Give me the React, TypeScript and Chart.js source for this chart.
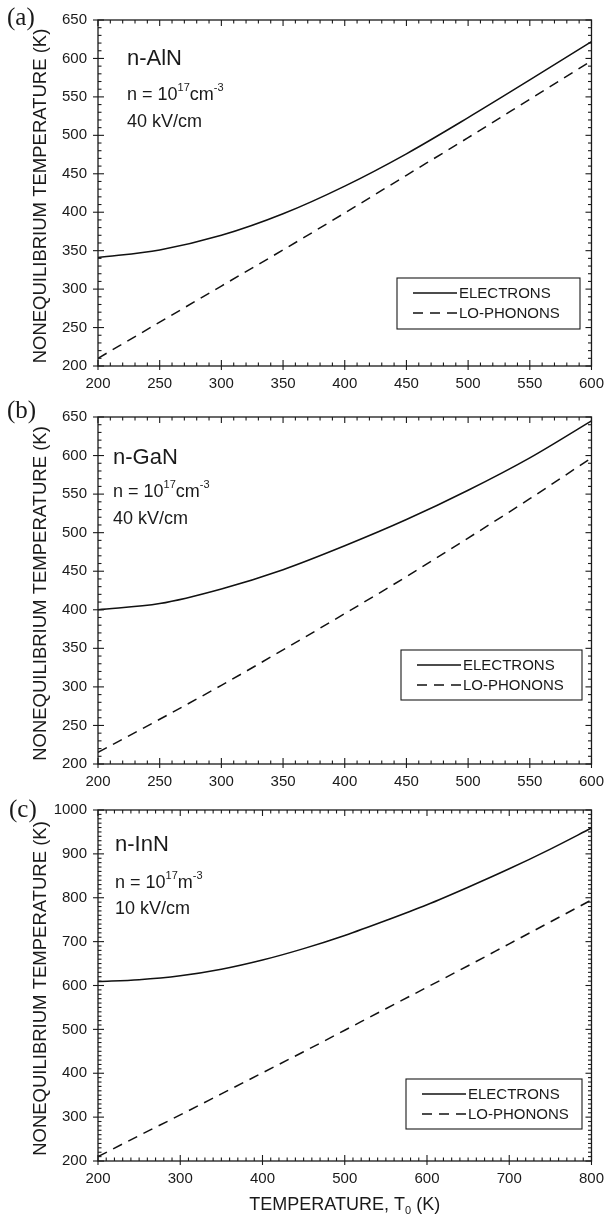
import React, { useEffect, useRef } from "react";
import { Chart, registerables } from "chart.js";

Chart.register(...registerables);

const FONT = '"Liberation Sans", Arial, Helvetica, sans-serif';
const SERIF = '"Liberation Serif", "Times New Roman", serif';
const INK = "#1a1a1a";

// ---- data ----
// (a) n-AlN
const tempA = [200, 250, 300, 350, 400, 450, 500, 550, 600];
const electronsA = [341, 351, 370, 398, 434, 476, 523, 572, 622];
const phononsA = [210, 257, 304, 351, 399, 448, 497, 547, 597];
// (b) n-GaN
const tempB = [200, 250, 300, 350, 400, 450, 500, 550, 600];
const electronsB = [400, 408, 427, 452, 483, 517, 555, 597, 645];
const phononsB = [215, 258, 302, 348, 395, 443, 493, 544, 597];
// (c) n-InN
const tempC = [200, 250, 300, 350, 400, 450, 500, 550, 600, 650, 700, 750, 800];
const electronsC = [609, 613, 622, 637, 658, 684, 714, 748, 784, 824, 866, 911, 959];
const phononsC = [210, 258, 305, 353, 401, 449, 498, 547, 596, 645, 695, 745, 795];

const legendLabels = ["ELECTRONS", "LO-PHONONS"];
const panelLetters = ["(a)", "(b)", "(c)"];
const materials = ["n-AlN", "n-GaN", "n-InN"];
const densityUnits = ["cm", "cm", "m"];
const fields = ["40 kV/cm", "40 kV/cm", "10 kV/cm"];
const yTitle = "NONEQUILIBRIUM TEMPERATURE (K)";
const xTitleMain = "TEMPERATURE, T";
const xTitleSub = "0";
const xTitleTail = " (K)";

// ---- layout ----
const panels = [
  {
    top: 0, height: 400, bottomPad: 34,
    temp: tempA, el: electronsA, ph: phononsA,
    xMin: 200, xMax: 600, xMajor: 50, xMinor: 10,
    yMin: 200, yMax: 650, yMajor: 50, yMinor: 10,
    letter: { x: 7, y: 25 }, text: { x: 127, y: [65, 100, 127] },
    legend: { x: 397, y: 278, w: 183, h: 51 }, xTitle: false,
  },
  {
    top: 397, height: 400, bottomPad: 33,
    temp: tempB, el: electronsB, ph: phononsB,
    xMin: 200, xMax: 600, xMajor: 50, xMinor: 10,
    yMin: 200, yMax: 650, yMajor: 50, yMinor: 10,
    letter: { x: 7, y: 21 }, text: { x: 113, y: [67, 100, 127] },
    legend: { x: 401, y: 253, w: 181, h: 50 }, xTitle: false,
  },
  {
    top: 790, height: 429, bottomPad: 58,
    temp: tempC, el: electronsC, ph: phononsC,
    xMin: 200, xMax: 800, xMajor: 100, xMinor: 10,
    yMin: 200, yMax: 1000, yMajor: 100, yMinor: 10,
    letter: { x: 9, y: 27 }, text: { x: 115, y: [61, 98, 124] },
    legend: { x: 406, y: 289, w: 176, h: 50 }, xTitle: true,
  },
];

function line(ctx: CanvasRenderingContext2D, x1: number, y1: number, x2: number, y2: number) {
  ctx.beginPath();
  ctx.moveTo(x1, y1);
  ctx.lineTo(x2, y2);
  ctx.stroke();
}

function drawRuns(ctx: CanvasRenderingContext2D, parts: [string, number, number][], x: number, y: number) {
  let cx = x;
  for (const [t, size, dy] of parts) {
    ctx.font = `${size}px ${FONT}`;
    ctx.fillText(t, cx, y + dy);
    cx += ctx.measureText(t).width;
  }
  return cx;
}

const decorPlugin = {
  id: "decor",
  afterDraw(chart: any) {
    const o = chart.options.plugins.decor;
    if (!o) return;
    const p = o.panel;
    const idx = o.index;
    const ctx: CanvasRenderingContext2D = chart.ctx;
    const a = chart.chartArea;
    const xs = chart.scales.x;
    const ys = chart.scales.y;
    ctx.save();
    ctx.strokeStyle = INK;
    ctx.fillStyle = INK;
    ctx.lineWidth = 1.3;
    ctx.strokeRect(a.left, a.top, a.right - a.left, a.bottom - a.top);
    ctx.lineWidth = 1.1;
    // x ticks
    for (let v = p.xMin; v <= p.xMax + 1e-6; v += p.xMinor) {
      const px = xs.getPixelForValue(v);
      const major = Math.abs(((v - p.xMin) / p.xMajor) - Math.round((v - p.xMin) / p.xMajor)) < 1e-6;
      const len = major ? 6 : 3.5;
      line(ctx, px, a.bottom, px, a.bottom - len);
      line(ctx, px, a.top, px, a.top + len);
      if (major) line(ctx, px, a.bottom, px, a.bottom + 4);
    }
    // y ticks
    for (let v = p.yMin; v <= p.yMax + 1e-6; v += p.yMinor) {
      const py = ys.getPixelForValue(v);
      const major = Math.abs(((v - p.yMin) / p.yMajor) - Math.round((v - p.yMin) / p.yMajor)) < 1e-6;
      const len = major ? 6 : 3.5;
      line(ctx, a.left, py, a.left + len, py);
      line(ctx, a.right, py, a.right - len, py);
      if (major) line(ctx, a.left, py, a.left - 5, py);
    }
    // y title
    ctx.save();
    ctx.translate(41, (a.top + a.bottom) / 2 + 3);
    ctx.rotate(-Math.PI / 2);
    ctx.textAlign = "center";
    ctx.textBaseline = "middle";
    ctx.font = `18.5px ${FONT}`;
    ctx.fillText(yTitle, 0, 0);
    ctx.restore();
    // panel letter
    ctx.textAlign = "left";
    ctx.textBaseline = "alphabetic";
    ctx.font = `25px ${SERIF}`;
    ctx.fillText(panelLetters[idx], p.letter.x, p.letter.y);
    // annotations
    ctx.font = `22px ${FONT}`;
    ctx.fillText(materials[idx], p.text.x, p.text.y[0]);
    drawRuns(ctx, [["n = 10", 18, 0], ["17", 11, -9], [densityUnits[idx], 18, 0], ["-3", 11, -9]], p.text.x, p.text.y[1]);
    ctx.font = `18px ${FONT}`;
    ctx.fillText(fields[idx], p.text.x, p.text.y[2]);
    // legend
    const L = p.legend;
    ctx.lineWidth = 1.1;
    ctx.strokeRect(L.x, L.y, L.w, L.h);
    const ds = chart.data.datasets;
    for (let i = 0; i < 2; i++) {
      const ry = L.y + 15 + i * 20;
      ctx.save();
      ctx.strokeStyle = ds[i].borderColor;
      ctx.lineWidth = ds[i].borderWidth;
      ctx.setLineDash(ds[i].borderDash || []);
      line(ctx, L.x + 16, ry, L.x + 60, ry);
      ctx.restore();
      ctx.font = `15px ${FONT}`;
      ctx.textBaseline = "middle";
      ctx.fillText(legendLabels[i], L.x + 62, ry + 1);
    }
    // x title
    if (p.xTitle) {
      ctx.textBaseline = "alphabetic";
      ctx.font = `18px ${FONT}`;
      const w1 = ctx.measureText(xTitleMain).width;
      ctx.font = `11px ${FONT}`;
      const w2 = ctx.measureText(xTitleSub).width;
      ctx.font = `18px ${FONT}`;
      const w3 = ctx.measureText(xTitleTail).width;
      const total = w1 + w2 + w3;
      const cx = (a.left + a.right) / 2;
      drawRuns(ctx, [[xTitleMain, 18, 0], [xTitleSub, 11, 4], [xTitleTail, 18, 0]], cx - total / 2, 420);
    }
    ctx.restore();
  },
};

function Panel({ index }: { index: number }) {
  const ref = useRef<HTMLCanvasElement>(null);
  const p = panels[index];
  useEffect(() => {
    if (!ref.current) return;
    const chart = new Chart(ref.current, {
      type: "line",
      data: {
        datasets: [
          {
            label: legendLabels[0],
            data: p.temp.map((t, i) => ({ x: t, y: p.el[i] })),
            borderColor: "#111",
            borderWidth: 1.5,
            pointRadius: 0,
            cubicInterpolationMode: "monotone",
            fill: false,
          },
          {
            label: legendLabels[1],
            data: p.temp.map((t, i) => ({ x: t, y: p.ph[i] })),
            borderColor: "#111",
            borderWidth: 1.5,
            borderDash: [10, 7],
            pointRadius: 0,
            cubicInterpolationMode: "monotone",
            fill: false,
          },
        ],
      },
      options: {
        animation: false,
        responsive: false,
        devicePixelRatio: 1,
        layout: { padding: { left: 0, right: 14, top: 13, bottom: 0 } },
        plugins: {
          legend: { display: false },
          tooltip: { enabled: false },
          decor: { panel: p, index },
        } as any,
        scales: {
          x: {
            type: "linear",
            min: p.xMin,
            max: p.xMax,
            grid: { display: false, drawTicks: false },
            border: { display: false },
            ticks: {
              stepSize: p.xMajor,
              padding: 9,
              color: INK,
              font: { family: FONT, size: 15 },
              maxRotation: 0,
              callback: (v: any) => String(v),
            },
            afterFit: (s: any) => {
              s.height = p.bottomPad;
            },
          },
          y: {
            type: "linear",
            min: p.yMin,
            max: p.yMax,
            grid: { display: false, drawTicks: false },
            border: { display: false },
            ticks: {
              stepSize: p.yMajor,
              padding: 11,
              color: INK,
              font: { family: FONT, size: 15 },
              callback: (v: any) => String(v),
            },
            afterFit: (s: any) => {
              s.width = 98;
            },
          },
        },
      },
      plugins: [decorPlugin],
    } as any);
    return () => chart.destroy();
  }, [index]);
  return (
    <canvas
      ref={ref}
      width={613}
      height={p.height}
      style={{ position: "absolute", left: 0, top: p.top, width: 613, height: p.height }}
    />
  );
}

export default function App() {
  return (
    <div style={{ position: "absolute", left: 0, top: 0, width: 613, height: 1219, background: "#fff" }}>
      <Panel index={0} />
      <Panel index={1} />
      <Panel index={2} />
    </div>
  );
}
